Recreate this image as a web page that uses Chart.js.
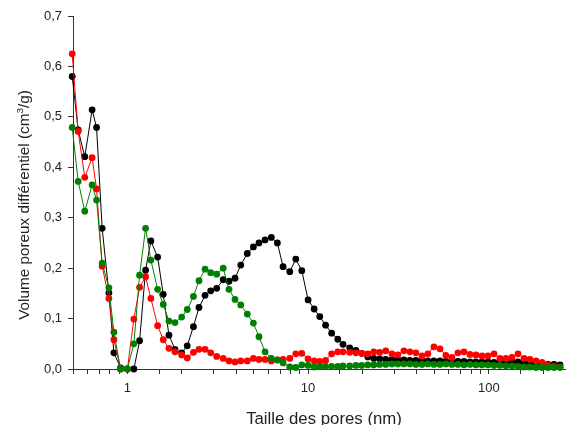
<!DOCTYPE html>
<html lang="fr">
<head>
<meta charset="UTF-8">
<title>Distribution de taille des pores</title>
<script src="https://cdn.jsdelivr.net/npm/chart.js"></script>
<style>
  html, body { margin: 0; padding: 0; overflow: hidden; background: #fff; }
  #wrap { position: absolute; left: 0; top: 0; }
</style>
</head>
<body>
<div id="wrap"><canvas id="poreChart" width="582" height="432"></canvas></div>
<script>
// Taille des pores (nm), grille commune aux trois échantillons
const poreSizes = [
  0.495, 0.534, 0.581, 0.638, 0.675, 0.725, 0.790, 0.842, 0.917, 1.0,
  1.086, 1.168, 1.261, 1.349, 1.470, 1.579, 1.698, 1.833, 1.997, 2.144,
  2.32, 2.49, 2.69, 2.89, 3.12, 3.39, 3.65, 3.94, 4.24, 4.61,
  4.98, 5.35, 5.78, 6.26, 6.76, 7.27, 7.92, 8.55, 9.23, 10.0,
  10.8, 11.6, 12.5, 13.5, 14.6, 15.6, 17.0, 18.4, 19.8, 21.4,
  23.1, 24.9, 26.9, 29.1, 31.4, 33.9, 36.6, 39.5, 42.7, 46.0,
  49.7, 53.7, 57.9, 62.5, 67.5, 72.9, 78.7, 84.9, 91.7, 99.0,
  106.9, 115.3, 124.5, 134.4, 145.1, 156.7, 169.1, 182.6, 197.1, 212.8,
  229.7, 247.9
];

// Volume poreux différentiel (cm3/g)
const blackValues = [
  0.580, 0.474, 0.421, 0.514, 0.479, 0.279, 0.151, 0.032, 0.002, 0.000,
  0.000, 0.056, 0.196, 0.254, 0.222, 0.148, 0.067, 0.039, 0.032, 0.046,
  0.084, 0.122, 0.146, 0.155, 0.160, 0.177, 0.174, 0.180, 0.206, 0.229,
  0.242, 0.250, 0.256, 0.261, 0.250, 0.203, 0.193, 0.218, 0.195, 0.137,
  0.119, 0.104, 0.087, 0.071, 0.059, 0.049, 0.042, 0.037, 0.031, 0.024,
  0.021, 0.020, 0.019, 0.019, 0.018, 0.018, 0.017, 0.017, 0.017, 0.016,
  0.016, 0.016, 0.015, 0.015, 0.015, 0.015, 0.014, 0.014, 0.014, 0.014,
  0.013, 0.013, 0.013, 0.015, 0.014, 0.012, 0.011, 0.010, 0.010, 0.009,
  0.009, 0.008
];

const redValues = [
  0.625, 0.471, 0.380, 0.419, 0.357, 0.204, 0.140, 0.058, 0.000, 0.000,
  0.099, 0.162, 0.183, 0.140, 0.086, 0.058, 0.041, 0.034, 0.028, 0.022,
  0.033, 0.039, 0.039, 0.032, 0.025, 0.021, 0.016, 0.014, 0.016, 0.016,
  0.021, 0.019, 0.019, 0.016, 0.018, 0.019, 0.021, 0.030, 0.031, 0.020,
  0.016, 0.015, 0.017, 0.030, 0.034, 0.034, 0.033, 0.032, 0.031, 0.030,
  0.034, 0.033, 0.036, 0.030, 0.028, 0.036, 0.034, 0.032, 0.026, 0.030,
  0.044, 0.040, 0.027, 0.023, 0.032, 0.034, 0.029, 0.028, 0.026, 0.026,
  0.030, 0.021, 0.021, 0.023, 0.030, 0.021, 0.019, 0.016, 0.013, 0.007,
  0.005, 0.004
];

const greenValues = [
  0.479, 0.372, 0.313, 0.365, 0.335, 0.210, 0.161, 0.073, 0.000, 0.000,
  0.050, 0.186, 0.279, 0.216, 0.158, 0.128, 0.095, 0.092, 0.103, 0.118,
  0.144, 0.175, 0.198, 0.191, 0.188, 0.200, 0.158, 0.138, 0.127, 0.109,
  0.091, 0.064, 0.034, 0.021, 0.018, 0.012, 0.004, 0.003, 0.008, 0.007,
  0.004, 0.005, 0.005, 0.005, 0.005, 0.006, 0.006, 0.007, 0.007, 0.008,
  0.008, 0.009, 0.009, 0.010, 0.010, 0.010, 0.010, 0.009, 0.009, 0.010,
  0.009, 0.009, 0.010, 0.009, 0.009, 0.008, 0.009, 0.008, 0.008, 0.008,
  0.007, 0.007, 0.006, 0.006, 0.005, 0.004, 0.004, 0.003, 0.003, 0.003,
  0.003, 0.003
];

const majorLabels = [1, 10, 100];
const xTitle = 'Taille des pores (nm)';
// titre Y : texte principal, exposant, fin
const yTitleParts = ['Volume poreux différentiel (cm', '3', '/g)'];

const fontFamily = "'Liberation Sans', Arial, sans-serif";
const axisColor = '#333';
const textColor = '#222';

function toPoints(values) {
  return poreSizes.map((x, i) => ({ x: x, y: values[i] }));
}

function series(label, values, color) {
  return {
    label: label,
    data: toPoints(values),
    borderColor: color,
    backgroundColor: color,
    borderWidth: 1,
    pointRadius: 3.4,
    pointBorderWidth: 0,
    pointHoverRadius: 3.4,
    tension: 0,
    clip: false
  };
}

// titre de l'axe Y dessiné à la main pour avoir le "3" en exposant
const yTitlePlugin = {
  id: 'yTitle',
  afterDraw(chart) {
    const ctx = chart.ctx;
    const size = 15.3;
    const mainFont = size + 'px ' + fontFamily;
    const supFont = (size * 0.65) + 'px ' + fontFamily;
    ctx.save();
    ctx.fillStyle = textColor;
    ctx.textBaseline = 'alphabetic';
    ctx.font = mainFont;
    const w0 = ctx.measureText(yTitleParts[0]).width;
    const w2 = ctx.measureText(yTitleParts[2]).width;
    ctx.font = supFont;
    const w1 = ctx.measureText(yTitleParts[1]).width;
    const total = w0 + w1 + w2;
    ctx.translate(29, 205);
    ctx.rotate(-Math.PI / 2);
    let x = -total / 2;
    ctx.font = mainFont;
    ctx.fillText(yTitleParts[0], x, 0);
    x += w0;
    ctx.font = supFont;
    ctx.fillText(yTitleParts[1], x, -size * 0.42);
    x += w1;
    ctx.font = mainFont;
    ctx.fillText(yTitleParts[2], x, 0);
    ctx.restore();
  }
};

// premier jeu dessiné au-dessus
const datasets = [
  series('Échantillon 3', greenValues, '#008000'),
  series('Échantillon 2', redValues, '#ff0000'),
  series('Échantillon 1', blackValues, '#000000')
];

new Chart(document.getElementById('poreChart'), {
  type: 'line',
  data: { datasets: datasets },
  plugins: [yTitlePlugin],
  options: {
    responsive: false,
    animation: false,
    layout: { padding: { top: 16, right: 6, bottom: 0, left: 0 } },
    plugins: {
      legend: { display: false },
      tooltip: { enabled: false }
    },
    scales: {
      x: {
        type: 'logarithmic',
        min: 0.5,
        max: 300,
        afterFit: (scale) => { scale.height = 63; },
        border: { display: true, color: axisColor, width: 1 },
        grid: { drawOnChartArea: false, drawTicks: true, tickLength: 5, tickColor: axisColor },
        ticks: {
          autoSkip: false,
          maxRotation: 0,
          padding: 7,
          color: textColor,
          font: { family: fontFamily, size: 13 },
          callback: (value) => majorLabels.includes(value) ? String(value) : ''
        },
        title: {
          display: true,
          text: xTitle,
          color: textColor,
          font: { family: fontFamily, size: 16.8 },
          padding: { top: 0, bottom: 3 }
        }
      },
      y: {
        min: 0,
        max: 0.7,
        afterFit: (scale) => { scale.width = 73; },
        border: { display: true, color: axisColor, width: 1 },
        grid: { drawOnChartArea: false, drawTicks: true, tickLength: 5, tickColor: axisColor },
        ticks: {
          stepSize: 0.1,
          padding: 6,
          color: textColor,
          font: { family: fontFamily, size: 13 },
          callback: (value) => value.toFixed(1).replace('.', ',')
        },
        title: { display: false }
      }
    }
  }
});
</script>
</body>
</html>
